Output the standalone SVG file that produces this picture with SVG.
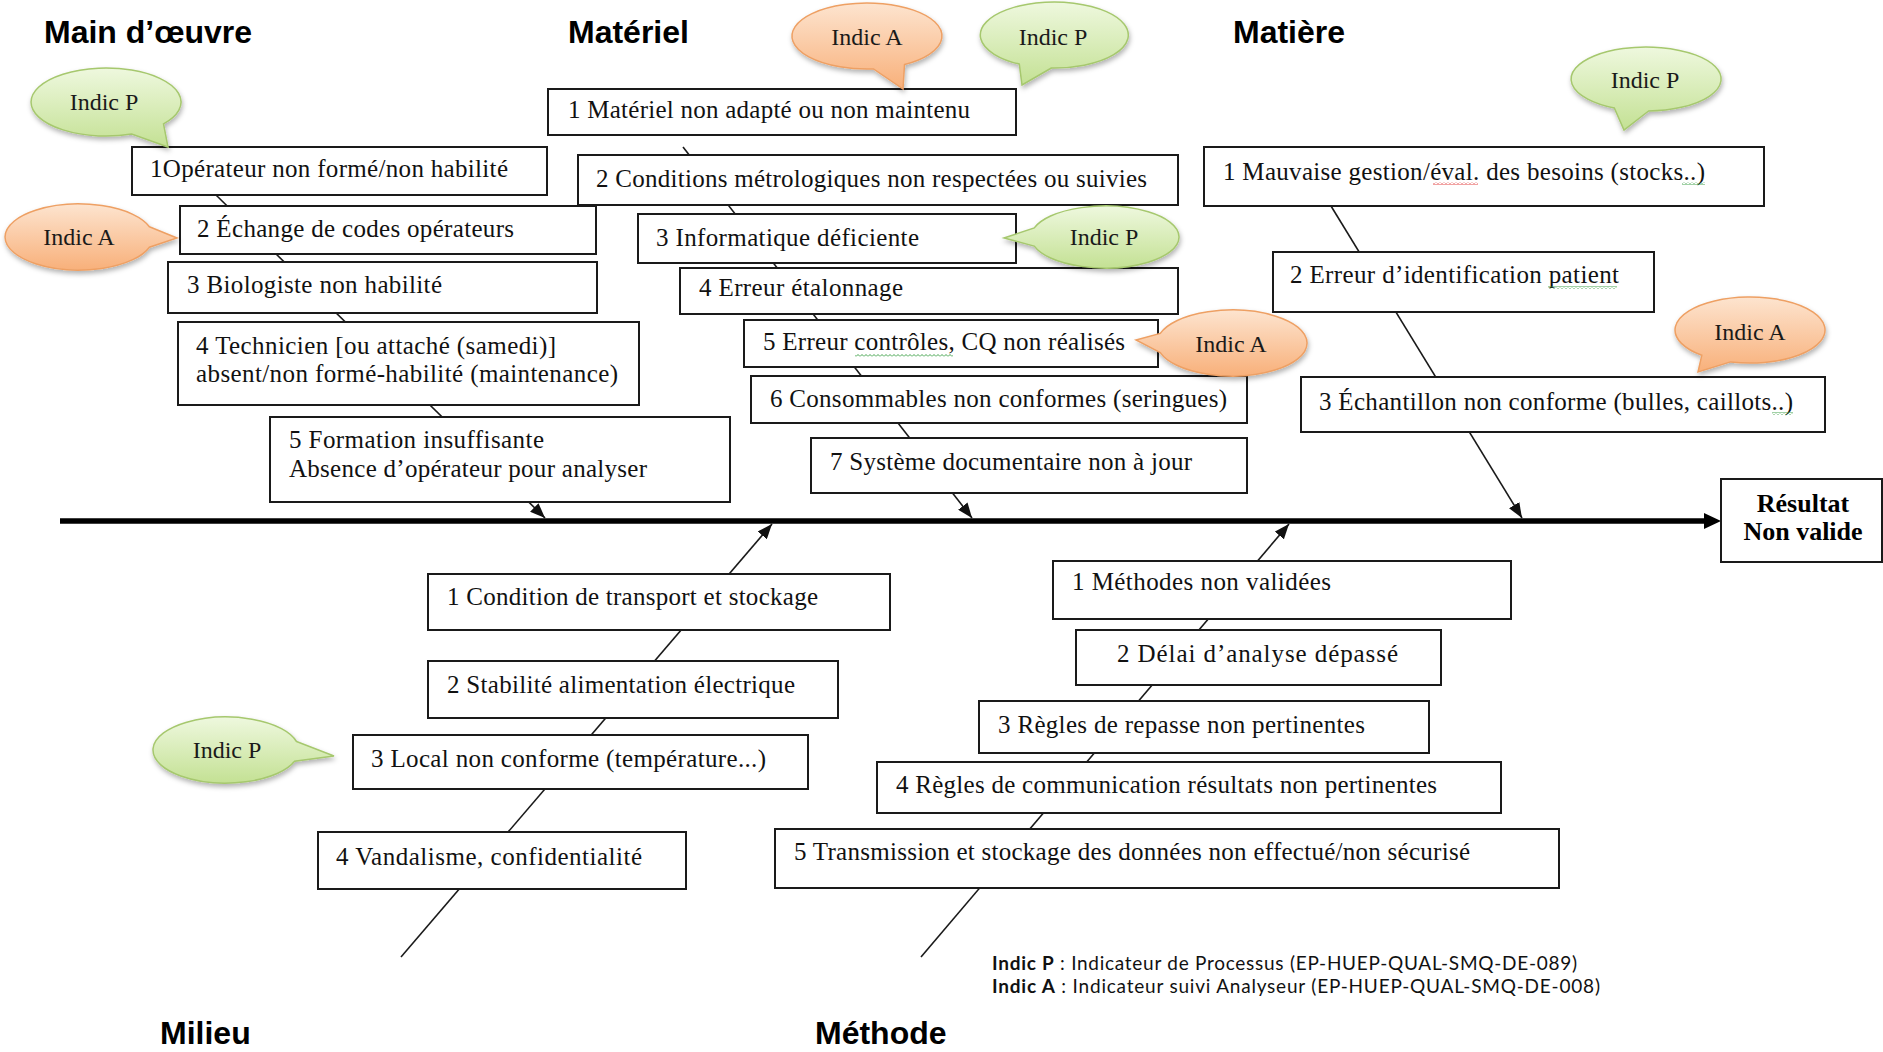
<svg xmlns="http://www.w3.org/2000/svg" width="1883" height="1052" viewBox="0 0 1883 1052">
<style>
.box{fill:#fff;stroke:#1a1a1a;stroke-width:2}
.bt{font-family:"Liberation Serif","Times New Roman",serif;font-size:25px;fill:#111}
.title{font-family:"Liberation Sans",Arial,sans-serif;font-size:32px;font-weight:bold;fill:#000}
.it{font-family:"Liberation Serif","Times New Roman",serif;font-size:24px;fill:#1a1a1a;text-anchor:middle}
.gb{fill:url(#gG);stroke:#a6c86e;stroke-width:1.5;filter:url(#sh)}
.ob{fill:url(#gO);stroke:#eea064;stroke-width:1.5;filter:url(#sh)}
.con{stroke:#1a1a1a;stroke-width:1.6;fill:none;marker-end:url(#ah)}
.res{font-family:"Liberation Serif","Times New Roman",serif;font-size:26px;font-weight:bold;fill:#000;text-anchor:middle}
.leg{font-family:Lato,"Liberation Sans",sans-serif;font-size:19px;fill:#111}
</style>
<defs>
<linearGradient id="gG" x1="0" y1="0" x2="0" y2="1"><stop offset="0" stop-color="#eef8de"/><stop offset="1" stop-color="#c4e194"/></linearGradient>
<linearGradient id="gO" x1="0" y1="0" x2="0" y2="1"><stop offset="0" stop-color="#fde4cf"/><stop offset="1" stop-color="#f8b07a"/></linearGradient>
<filter id="sh" x="-20%" y="-20%" width="140%" height="150%"><feDropShadow dx="1" dy="3" stdDeviation="2.5" flood-color="#000" flood-opacity="0.3"/></filter>
<marker id="ah" markerUnits="userSpaceOnUse" markerWidth="16" markerHeight="12" refX="15" refY="6" orient="auto"><path d="M0,0 L15,6 L0,12 z" fill="#111"/></marker>
<pattern id="sqR" width="4" height="3" patternUnits="userSpaceOnUse"><path d="M0,2.5 L2,0.5 L4,2.5" stroke="#e03030" stroke-width="0.9" fill="none"/></pattern>
<pattern id="sqG" width="4" height="3" patternUnits="userSpaceOnUse"><path d="M0,2.5 L2,0.5 L4,2.5" stroke="#2f9a3a" stroke-width="0.9" fill="none"/></pattern>
</defs>
<rect width="1883" height="1052" fill="#fff"/>

<g id="connectors">
<path class="con" d="M216,195 L545,518"/>
<path class="con" d="M683,147 L972,518"/>
<path class="con" d="M1331,206 L1522,518"/>
<path class="con" d="M401,957 L772,524"/>
<path class="con" d="M921,957 L1289,524"/>
<path d="M60,521 L1708,521" stroke="#000" stroke-width="5.5" fill="none"/>
<polygon points="1721,521 1704,513 1704,529" fill="#000"/>
</g>

<g id="titles">
<text class="title" x="44" y="43">Main d’œuvre</text>
<text class="title" x="568" y="43">Matériel</text>
<text class="title" x="1233" y="43">Matière</text>
<text class="title" x="160" y="1044">Milieu</text>
<text class="title" x="815" y="1044">Méthode</text>
</g>

<g id="main-1"><rect class="box" x="132" y="147" width="415" height="48"/><text class="bt" x="150" y="177" textLength="358">1Opérateur non formé/non habilité</text></g>
<g id="main-2"><rect class="box" x="180" y="206" width="416" height="48"/><text class="bt" x="197" y="237" textLength="317">2 Échange de codes opérateurs</text></g>
<g id="main-3"><rect class="box" x="168" y="262" width="429" height="51"/><text class="bt" x="187" y="293" textLength="255">3 Biologiste non habilité</text></g>
<g id="main-4"><rect class="box" x="178" y="322" width="461" height="83"/><text class="bt" x="196" y="354" textLength="360">4 Technicien [ou attaché (samedi)]</text><text class="bt" x="196" y="382" textLength="422">absent/non formé-habilité (maintenance)</text></g>
<g id="main-5"><rect class="box" x="270" y="417" width="460" height="85"/><text class="bt" x="289" y="448" textLength="255">5 Formation insuffisante</text><text class="bt" x="289" y="477" textLength="358">Absence d’opérateur pour analyser</text></g>

<g id="mat-1"><rect class="box" x="548" y="89" width="468" height="46"/><text class="bt" x="568" y="118" textLength="402">1 Matériel non adapté ou non maintenu</text></g>
<g id="mat-2"><rect class="box" x="578" y="155" width="600" height="50"/><text class="bt" x="596" y="187" textLength="551">2 Conditions métrologiques non respectées ou suivies</text></g>
<g id="mat-3"><rect class="box" x="638" y="214" width="378" height="49"/><text class="bt" x="656" y="246" textLength="263">3 Informatique déficiente</text></g>
<g id="mat-4"><rect class="box" x="680" y="268" width="498" height="46"/><text class="bt" x="699" y="296" textLength="204">4 Erreur étalonnage</text></g>
<g id="mat-5"><rect class="box" x="744" y="320" width="414" height="47"/><text class="bt" x="763" y="350" textLength="362">5 Erreur contrôles, CQ non réalisés</text><rect x="855" y="354" width="98" height="3" fill="url(#sqG)"/></g>
<g id="mat-6"><rect class="box" x="751" y="376" width="496" height="47"/><text class="bt" x="770" y="407" textLength="457">6 Consommables non conformes (seringues)</text></g>
<g id="mat-7"><rect class="box" x="811" y="438" width="436" height="55"/><text class="bt" x="830" y="470" textLength="362">7 Système documentaire non à jour</text></g>

<g id="matiere-1"><rect class="box" x="1204" y="147" width="560" height="59"/><text class="bt" x="1223" y="180" textLength="482">1 Mauvaise gestion/éval. des besoins (stocks..)</text><rect x="1433" y="182" width="45" height="3" fill="url(#sqR)"/><rect x="1682" y="182" width="23" height="3" fill="url(#sqG)"/></g>
<g id="matiere-2"><rect class="box" x="1273" y="252" width="381" height="60"/><text class="bt" x="1290" y="283" textLength="329">2 Erreur d’identification patient</text><rect x="1548" y="286" width="69" height="3" fill="url(#sqG)"/></g>
<g id="matiere-3"><rect class="box" x="1301" y="377" width="524" height="55"/><text class="bt" x="1319" y="410" textLength="474">3 Échantillon non conforme (bulles, caillots..)</text><rect x="1772" y="412" width="21" height="3" fill="url(#sqG)"/></g>

<g id="milieu-1"><rect class="box" x="428" y="574" width="462" height="56"/><text class="bt" x="447" y="605" textLength="371">1 Condition de transport et stockage</text></g>
<g id="milieu-2"><rect class="box" x="428" y="661" width="410" height="57"/><text class="bt" x="447" y="693" textLength="348">2 Stabilité alimentation électrique</text></g>
<g id="milieu-3"><rect class="box" x="353" y="735" width="455" height="54"/><text class="bt" x="371" y="767" textLength="395">3 Local non conforme (température...)</text></g>
<g id="milieu-4"><rect class="box" x="318" y="832" width="368" height="57"/><text class="bt" x="336" y="865" textLength="306">4 Vandalisme, confidentialité</text></g>

<g id="methode-1"><rect class="box" x="1053" y="561" width="458" height="58"/><text class="bt" x="1072" y="590" textLength="259">1 Méthodes non validées</text></g>
<g id="methode-2"><rect class="box" x="1076" y="630" width="365" height="55"/><text class="bt" x="1117" y="662" textLength="281">2 Délai d’analyse dépassé</text></g>
<g id="methode-3"><rect class="box" x="979" y="701" width="450" height="52"/><text class="bt" x="998" y="733" textLength="367">3 Règles de repasse non pertinentes</text></g>
<g id="methode-4"><rect class="box" x="877" y="762" width="624" height="51"/><text class="bt" x="896" y="793" textLength="541">4 Règles de communication résultats non pertinentes</text></g>
<g id="methode-5"><rect class="box" x="775" y="829" width="784" height="59"/><text class="bt" x="794" y="860" textLength="676">5 Transmission et stockage des données non effectué/non sécurisé</text></g>

<g id="result"><rect class="box" x="1721" y="479" width="161" height="83"/><text class="res" x="1803" y="512">Résultat</text><text class="res" x="1803" y="540">Non valide</text></g>

<g id="indic-p-1"><path class="gb" d="M163.5,123.9 L168,147 L131.7,134 A75,34 0 1 1 163.5,123.9 Z"/><text class="it" x="104" y="110">Indic P</text></g>
<g id="indic-a-1"><path class="ob" d="M149.4,226.8 L177,238 L149.4,247.2 A74,33 0 1 1 149.4,226.8 Z"/><text class="it" x="79" y="245">Indic A</text></g>
<g id="indic-a-2"><path class="ob" d="M904.5,64.6 L903,89 L873.5,68.9 A75,33 0 1 1 904.5,64.6 Z"/><text class="it" x="867" y="45">Indic A</text></g>
<g id="indic-p-2"><path class="gb" d="M1051.4,68 L1022,85 L1019.3,64.1 A74,33 0 1 1 1051.4,68 Z"/><text class="it" x="1053" y="45">Indic P</text></g>
<g id="indic-p-3"><path class="gb" d="M1034.3,246.1 L1004,238 L1034.3,227.9 A74,31 0 1 1 1034.3,246.1 Z"/><text class="it" x="1104" y="245">Indic P</text></g>
<g id="indic-a-3"><path class="ob" d="M1160.3,352.6 L1136,340 L1160.3,333.4 A75,33 0 1 1 1160.3,352.6 Z"/><text class="it" x="1231" y="352">Indic A</text></g>
<g id="indic-p-4"><path class="gb" d="M1648.6,111 L1624,130 L1614.3,108 A75,32 0 1 1 1648.6,111 Z"/><text class="it" x="1645" y="88">Indic P</text></g>
<g id="indic-a-4"><path class="ob" d="M1730.6,361.9 L1698,372 L1701.8,355.3 A75,33 0 1 1 1730.6,361.9 Z"/><text class="it" x="1750" y="340">Indic A</text></g>
<g id="indic-p-5"><path class="gb" d="M296.5,741.5 L334,756 L294.6,761.3 A73,33 0 1 1 296.5,741.5 Z"/><text class="it" x="227" y="758">Indic P</text></g>

<g id="legend">
<text class="leg" x="992" y="970" textLength="585"><tspan font-weight="bold">Indic P</tspan> : Indicateur de Processus (EP-HUEP-QUAL-SMQ-DE-089)</text>
<text class="leg" x="992" y="993" textLength="608"><tspan font-weight="bold">Indic A</tspan> : Indicateur suivi Analyseur (EP-HUEP-QUAL-SMQ-DE-008)</text>
</g>
</svg>
